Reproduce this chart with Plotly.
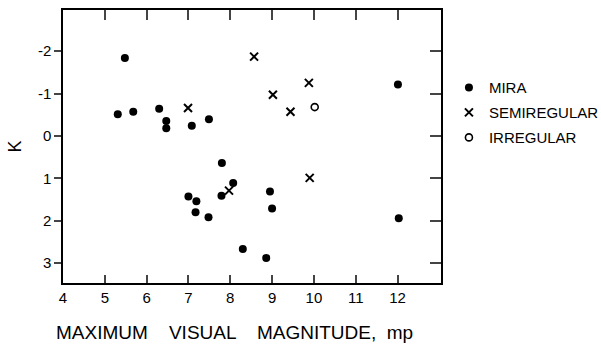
import plotly.graph_objects as go

# Data
mira_x = [5.48, 5.31, 5.68, 6.30, 6.47, 6.47, 7.08, 7.49, 7.80,
          7.00, 7.19, 7.17, 7.48, 7.79, 8.07, 8.30, 8.95, 9.00, 8.86,
          12.03, 12.01]
mira_k = [-1.84, -0.51, -0.57, -0.64, -0.35, -0.18, -0.24, -0.39, 0.64,
          1.43, 1.54, 1.80, 1.92, 1.41, 1.11, 2.67, 1.31, 1.71, 2.88,
          1.94, -1.21]

semi_x = [6.99, 8.57, 9.02, 9.44, 9.88, 7.97, 9.90]
semi_k = [-0.66, -1.87, -0.97, -0.57, -1.25, 1.29, 0.99]

irr_x = [10.02]
irr_k = [-0.68]

x_ticks = [4, 5, 6, 7, 8, 9, 10, 11, 12]
y_ticks = [-2, -1, 0, 1, 2, 3]
y_labels = ["-2", "-1", "0", "1", "2", "3"]

FONT = "Liberation Sans, Arial, sans-serif"

fig = go.Figure()
fig.add_trace(go.Scatter(x=mira_x, y=mira_k, mode="markers", name="MIRA",
                         legendgroup="a",
                         marker=dict(symbol="circle", size=8, color="black")))
fig.add_trace(go.Scatter(x=semi_x, y=semi_k, mode="markers", name="SEMIREGULAR",
                         legendgroup="b",
                         marker=dict(symbol="x-thin", size=8, color="black",
                                     line=dict(width=2, color="black"))))
fig.add_trace(go.Scatter(x=irr_x, y=irr_k, mode="markers", name="IRREGULAR",
                         legendgroup="c",
                         marker=dict(symbol="circle-open", size=7, color="black",
                                     line=dict(width=1.6, color="black"))))
# helper trace for mirrored tick axes
fig.add_trace(go.Scatter(x=[None], y=[None], xaxis="x2", yaxis="y2",
                         showlegend=False, hoverinfo="skip"))

xr = [4, 13.04]
yr = [3.47, -2.97]

fig.update_layout(
    width=601, height=346,
    margin=dict(l=63, r=160, t=10, b=63, autoexpand=False),
    paper_bgcolor="white", plot_bgcolor="white",
    font=dict(family=FONT, color="black", size=15),
    showlegend=True,
    legend=dict(x=1.021, xanchor="left", y=0.776, yanchor="top",
                font=dict(size=15, family=FONT), tracegroupgap=2.5,
                bgcolor="rgba(0,0,0,0)"),
    xaxis=dict(range=xr, tickvals=x_ticks, ticks="inside", ticklen=8,
               tickwidth=1.5, showline=True, linewidth=1.5, linecolor="black",
               mirror=True, showgrid=False, zeroline=False,
               tickfont=dict(size=15)),
    xaxis2=dict(range=xr, overlaying="x", side="top", tickvals=x_ticks[1:],
                ticks="inside", ticklen=10, tickwidth=1.5, showticklabels=False,
                showline=False, showgrid=False, zeroline=False),
    yaxis=dict(range=yr, tickvals=y_ticks, ticktext=y_labels, ticks="outside",
               ticklen=7, tickwidth=1.5, showline=True, linewidth=1.5,
               linecolor="black", mirror=True, showgrid=False, zeroline=False,
               tickfont=dict(size=15),
               title=dict(text="K", font=dict(size=18), standoff=12)),
    yaxis2=dict(range=yr, overlaying="y", side="right", tickvals=y_ticks,
                ticks="inside", ticklen=11, tickwidth=1.5, showticklabels=False,
                showline=False, showgrid=False, zeroline=False),
    annotations=[dict(text="MAXIMUM    VISUAL    MAGNITUDE,  mp",
                      xref="paper", yref="paper", x=0.455, y=-0.18,
                      xanchor="center", yanchor="middle", showarrow=False,
                      font=dict(size=19, family=FONT))],
)

fig.write_html("out.html")
